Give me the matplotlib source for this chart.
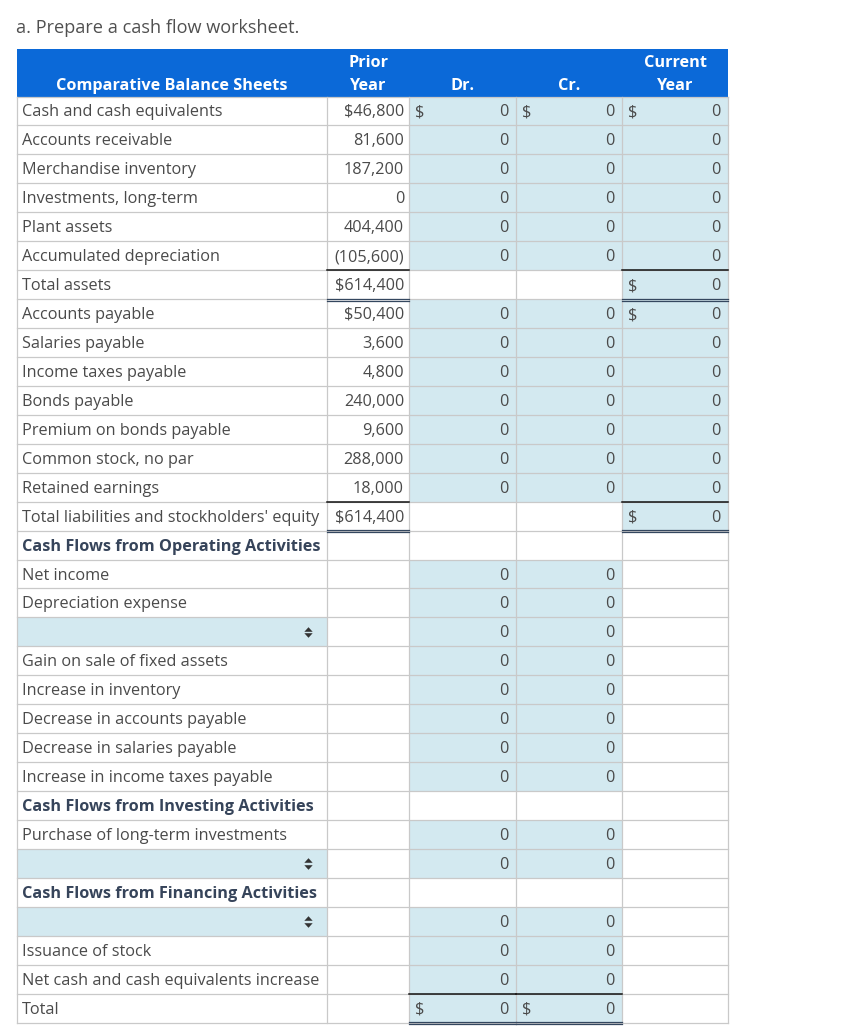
import matplotlib.pyplot as plt
from matplotlib.patches import Rectangle

# worksheet content
labels = [
    "Cash and cash equivalents", "Accounts receivable", "Merchandise inventory",
    "Investments, long-term", "Plant assets", "Accumulated depreciation",
    "Total assets", "Accounts payable", "Salaries payable", "Income taxes payable",
    "Bonds payable", "Premium on bonds payable", "Common stock, no par",
    "Retained earnings", "Total liabilities and stockholders' equity",
    "Cash Flows from Operating Activities", "Net income", "Depreciation expense",
    "", "Gain on sale of fixed assets", "Increase in inventory",
    "Decrease in accounts payable", "Decrease in salaries payable",
    "Increase in income taxes payable", "Cash Flows from Investing Activities",
    "Purchase of long-term investments", "", "Cash Flows from Financing Activities",
    "", "Issuance of stock", "Net cash and cash equivalents increase", "Total",
]
prior_year = [46800, 81600, 187200, 0, 404400, -105600, 614400, 50400, 3600, 4800,
              240000, 9600, 288000, 18000, 614400] + [None] * 17
dr_vals = [0] * 6 + [None] + [0] * 7 + [None, None] + [0] * 8 + [None, 0, 0, None, 0, 0, 0, 0]
cr_vals = list(dr_vals)
cur_vals = [0] * 15 + [None] * 17
section_rows = [15, 24, 27]
dropdown_rows = [18, 26, 28]
dollar_prior = [0, 6, 7, 14]
dollar_dr = [0, 31]
dollar_cr = [0, 31]
dollar_cur = [0, 6, 7, 14]
total_rows_bs = [6, 14]
total_rows_cf = [31]

HEAD_BLUE = "#0b69d8"
CELL_BLUE = "#d3e9f0"
GRID = "#c9c9c9"
TXT = "#4a4a4a"
BOLD_TXT = "#36445a"
DBL = "#34475f"

plt.rcParams['font.family'] = ['Open Sans', 'DejaVu Sans']

fig = plt.figure(figsize=(8.55, 10.3), dpi=100)
ax = fig.add_axes([0, 0, 1, 1])
ax.set_xlim(0, 855)
ax.set_ylim(1030, 0)
ax.axis('off')

col_x = [17, 327, 409, 516, 622, 728]
top0 = 96.5
rh = 28.94
fs = 11.7

ax.text(16, 28, "a. Prepare a cash flow worksheet.", fontsize=13.1, color="#505050",
        va='center', ha='left')

# header
ax.add_patch(Rectangle((col_x[0], 49), col_x[-1] - col_x[0], top0 - 49, color=HEAD_BLUE, lw=0))
hdr = dict(color='white', fontweight='bold', fontsize=fs, ha='center', va='center')
ax.text((col_x[0] + col_x[1]) / 2, 86, "Comparative Balance Sheets", **hdr)
ax.text((col_x[1] + col_x[2]) / 2, 63, "Prior", **hdr)
ax.text((col_x[1] + col_x[2]) / 2, 86, "Year", **hdr)
ax.text((col_x[2] + col_x[3]) / 2, 86, "Dr.", **hdr)
ax.text((col_x[3] + col_x[4]) / 2, 86, "Cr.", **hdr)
ax.text((col_x[4] + col_x[5]) / 2, 63, "Current", **hdr)
ax.text((col_x[4] + col_x[5]) / 2, 86, "Year", **hdr)

# select-box arrows
up_tri = [(-1, -0.55), (1, -0.55), (0, 0.55)]
down_tri = [(-1, 0.55), (1, 0.55), (0, -0.55)]


def fmt(v, dollar):
    s = f"{abs(v):,}"
    if v < 0:
        s = f"({s})"
    return ("$" + s) if dollar else s


n = len(labels)
for i in range(n):
    y0 = top0 + i * rh
    yc = y0 + rh / 2 + 1.5
    # fills
    if i in dropdown_rows:
        ax.add_patch(Rectangle((col_x[0], y0), col_x[1] - col_x[0], rh, color=CELL_BLUE, lw=0))
        ax.plot([308], [y0 + rh / 2 - 3.3], marker=up_tri, ms=6, color='#333333', mew=0)
        ax.plot([308], [y0 + rh / 2 + 3.3], marker=down_tri, ms=6, color='#333333', mew=0)
    for k, vals in enumerate([dr_vals, cr_vals, cur_vals]):
        if vals[i] is not None:
            ax.add_patch(Rectangle((col_x[k + 2], y0), col_x[k + 3] - col_x[k + 2], rh,
                                   color=CELL_BLUE, lw=0))
    # label
    if i in section_rows:
        ax.text(col_x[0] + 5, yc, labels[i], fontsize=fs, fontweight='bold', color=BOLD_TXT,
                va='center', ha='left')
    else:
        ax.text(col_x[0] + 5, yc, labels[i], fontsize=fs, color=TXT, va='center', ha='left')
    # prior year
    if prior_year[i] is not None:
        ax.text(col_x[2] - 5, yc, fmt(prior_year[i], i in dollar_prior), fontsize=fs,
                color=TXT, va='center', ha='right')
    # Dr / Cr / Current
    for k, (vals, dl) in enumerate([(dr_vals, dollar_dr), (cr_vals, dollar_cr),
                                    (cur_vals, dollar_cur)]):
        if vals[i] is not None:
            ax.text(col_x[k + 3] - 8, yc, f"{vals[i]:,}", fontsize=fs, color=TXT,
                    va='center', ha='right')
            if i in dl:
                ax.text(col_x[k + 2] + 6, yc, "$", fontsize=fs, color=TXT,
                        va='center', ha='left')

# grid lines
for i in range(n + 1):
    y = top0 + i * rh
    ax.plot([col_x[0], col_x[-1]], [y, y], color=GRID, lw=0.9, zorder=1)
for x in col_x:
    ax.plot([x, x], [top0, top0 + n * rh], color=GRID, lw=0.9, zorder=1)

# total rule lines
def total_rules(row, cols):
    yt = top0 + row * rh
    yb = yt + rh
    for c in cols:
        xa, xb = col_x[c], col_x[c + 1]
        ax.plot([xa, xb], [yt, yt], color='#111111', lw=1.1, zorder=3)
        ax.plot([xa, xb], [yb - 0.4, yb - 0.4], color=DBL, lw=0.9, zorder=3)
        ax.plot([xa, xb], [yb + 1.8, yb + 1.8], color=DBL, lw=0.9, zorder=3)


for r in total_rows_bs:
    total_rules(r, [1, 4])
for r in total_rows_cf:
    total_rules(r, [2, 3])

fig.savefig("out.png", dpi=100)
